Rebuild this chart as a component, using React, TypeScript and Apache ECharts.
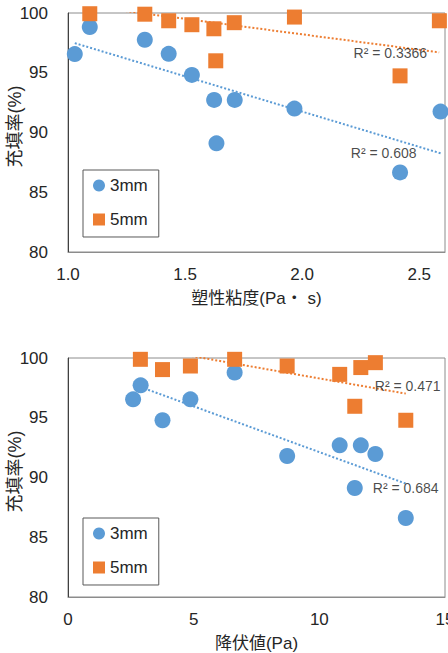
import React, { useEffect, useRef } from "react";
import * as echarts from "echarts";

// ---- Data ----
const seriesNames = ["3mm", "5mm"];

// Top chart: plastic viscosity (Pa·s) vs filling rate (%)
const viscosity3mm = [1.029, 1.093, 1.328, 1.43, 1.529, 1.624, 1.712, 1.634, 1.967, 2.418, 2.591];
const fillVisc3mm = [96.56, 98.83, 97.76, 96.58, 94.82, 92.73, 92.73, 89.09, 92.0, 86.66, 91.75];
const viscosity5mm = [1.093, 1.328, 1.43, 1.529, 1.623, 1.71, 1.631, 1.967, 2.418, 2.586];
const fillVisc5mm = [99.94, 99.9, 99.35, 99.02, 98.68, 99.19, 96.0, 99.66, 94.74, 99.35];

// Bottom chart: yield value (Pa) vs filling rate (%)
const yield3mm = [2.59, 2.89, 3.76, 4.87, 6.63, 8.72, 10.81, 11.65, 12.23, 11.41, 13.44];
const fillYield3mm = [96.54, 97.71, 94.79, 96.54, 98.78, 91.8, 92.69, 92.69, 91.97, 89.12, 86.61];
const yield5mm = [2.88, 3.76, 4.87, 6.63, 8.72, 10.81, 11.65, 12.23, 11.41, 13.44];
const fillYield5mm = [99.89, 99.03, 99.33, 99.89, 99.33, 98.63, 99.2, 99.61, 95.96, 94.79];

// Linear trendlines (start / end)
const trendViscX3 = [1.029, 2.591];
const trendViscY3 = [97.48, 88.26];
const trendViscX5 = [1.093, 2.585];
const trendViscY5 = [100.56, 96.7];
const trendYieldX3 = [2.59, 13.44];
const trendYieldY3 = [97.8, 89.49];
const trendYieldX5 = [2.88, 13.44];
const trendYieldY5 = [100.92, 97.02];

const r2Labels = ["R² = 0.608", "R² = 0.3366", "R² = 0.684", "R² = 0.471"];

const yTicks = { min: 80, max: 100, interval: 5 };
const xViscTicks = { min: 1.0, max: 2.61, interval: 0.5 };
const xYieldTicks = { min: 0, max: 15, interval: 5 };

const xName1 = "塑性粘度(Pa・ s)";
const xName2 = "降伏値(Pa)";
const yName = "充填率(%)";

const BLUE = "#5B9BD5";
const ORANGE = "#ED7D31";
const TEXT = "#262626";
const FONT = "'Liberation Sans', Arial, 'Noto Sans CJK JP', sans-serif";

const zip = (xs: number[], ys: number[]) => xs.map((x, i) => [x, ys[i]]);

export default function App() {
  const ref = useRef<HTMLDivElement>(null);

  useEffect(() => {
    if (!ref.current) return;
    const chart = echarts.init(ref.current, undefined, { renderer: "svg" });

    const grids = [
      { left: 68, top: 13, width: 377, height: 239 },
      { left: 68, top: 358, width: 377, height: 239 },
    ];

    const yAxis = (gi: number) => ({
      type: "value",
      gridIndex: gi,
      ...yTicks,
      name: yName,
      nameLocation: "middle",
      nameRotate: 90,
      nameGap: 44,
      nameMoveOverlap: false,
      nameTextStyle: { fontSize: 18, color: TEXT, fontFamily: FONT, padding: [0, 0, 0, 12] },
      axisLine: { show: true, lineStyle: { color: "#404040", width: 1 } },
      axisTick: { show: false },
      splitLine: { show: false },
      axisLabel: { fontSize: 17, color: TEXT, fontFamily: FONT, margin: 20 },
    });

    const xAxis = (gi: number, ticks: any, name: string, decimals: number) => ({
      type: "value",
      gridIndex: gi,
      ...ticks,
      name,
      nameLocation: "middle",
      nameGap: 38,
      nameMoveOverlap: false,
      nameTextStyle: { fontSize: 17, color: TEXT, fontFamily: FONT },
      axisLine: { show: true, onZero: false, lineStyle: { color: "#8c8c8c", width: 1 } },
      axisTick: { show: false },
      splitLine: { show: false },
      axisLabel: {
        fontSize: 17,
        color: TEXT,
        fontFamily: FONT,
        margin: 14,
        hideOverlap: false,
        showMaxLabel: decimals === 1 ? false : true,
        formatter: (v: number) => v.toFixed(decimals),
      },
    });

    const scatter = (name: string, gi: number, xs: number[], ys: number[], color: string, symbol: string, size: number) => ({
      type: "scatter",
      name,
      xAxisIndex: gi,
      yAxisIndex: gi,
      symbol,
      symbolSize: size,
      itemStyle: { color, opacity: 1 },
      data: zip(xs, ys),
      z: 3,
    });

    const trend = (gi: number, xs: number[], ys: number[], color: string) => ({
      type: "line",
      xAxisIndex: gi,
      yAxisIndex: gi,
      showSymbol: false,
      symbol: "none",
      clip: true,
      silent: true,
      lineStyle: { color, width: 2, type: [2, 2] },
      data: zip(xs, ys),
      z: 2,
    });

    const r2 = (gi: number, xs: number[], ys: number[], text: string, align: string, offset: number[]) => ({
      type: "scatter",
      xAxisIndex: gi,
      yAxisIndex: gi,
      symbolSize: 1,
      silent: true,
      itemStyle: { color: "rgba(0,0,0,0)" },
      label: {
        show: true,
        position: "inside",
        align,
        verticalAlign: "middle",
        offset,
        formatter: text,
        fontSize: 14,
        color: "#1a1a1a",
        fontFamily: FONT,
      },
      data: [[xs[xs.length - 1], ys[ys.length - 1]]],
      z: 4,
    });

    const legend = (top: number) => ({
      orient: "vertical",
      left: 83,
      top,
      padding: [7, 11, 9, 10],
      itemGap: 17,
      itemWidth: 12,
      itemHeight: 12,
      borderColor: "#595959",
      borderWidth: 1,
      selectedMode: false,
      textStyle: { fontSize: 17, color: TEXT, fontFamily: FONT },
      data: [
        { name: seriesNames[0], icon: "circle" },
        { name: seriesNames[1], icon: "rect" },
      ],
    });

    chart.setOption({
      animation: false,
      backgroundColor: "#ffffff",
      grid: grids.map((g) => ({
        ...g,
        show: true,
        containLabel: false,
        outerBoundsMode: "none",
        borderColor: "#8c8c8c",
        borderWidth: 1,
        backgroundColor: "transparent",
      })),
      xAxis: [xAxis(0, xViscTicks, xName1, 1), xAxis(1, xYieldTicks, xName2, 0)],
      yAxis: [yAxis(0), yAxis(1)],
      legend: [legend(170), legend(518)],
      series: [
        trend(0, trendViscX3, trendViscY3, BLUE),
        trend(0, trendViscX5, trendViscY5, ORANGE),
        scatter(seriesNames[0], 0, viscosity3mm, fillVisc3mm, BLUE, "circle", 16),
        scatter(seriesNames[1], 0, viscosity5mm, fillVisc5mm, ORANGE, "rect", 15),
        r2(0, trendViscX3, trendViscY3, r2Labels[0], "right", [-24, 0]),
        r2(0, trendViscX5, trendViscY5, r2Labels[1], "right", [-12, 1]),
        trend(1, trendYieldX3, trendYieldY3, BLUE),
        trend(1, trendYieldX5, trendYieldY5, ORANGE),
        scatter(seriesNames[0], 1, yield3mm, fillYield3mm, BLUE, "circle", 16),
        scatter(seriesNames[1], 1, yield5mm, fillYield5mm, ORANGE, "rect", 15),
        r2(1, trendYieldX3, trendYieldY3, r2Labels[2], "left", [-33, 4]),
        r2(1, trendYieldX5, trendYieldY5, r2Labels[3], "left", [-31, -8]),
      ],
    });

    return () => chart.dispose();
  }, []);

  return (
    <div
      ref={ref}
      style={{ position: "fixed", left: 0, top: 0, width: 448, height: 653, background: "#fff" }}
    />
  );
}
